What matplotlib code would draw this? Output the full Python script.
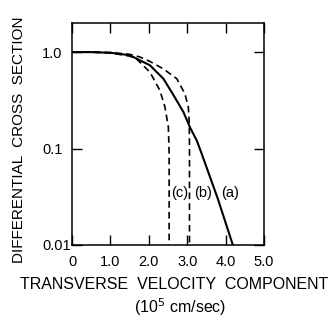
import matplotlib
matplotlib.use("Agg")
import matplotlib.pyplot as plt

plt.rcParams['font.family'] = ['Liberation Sans', 'DejaVu Sans']

# curve (a): solid
va = [0.0, 0.5, 1.0, 1.5, 2.03, 2.38, 2.64, 2.90, 3.07, 3.25, 3.38, 3.8, 4.19]
sa = [1.0, 1.0, 0.985, 0.93, 0.73, 0.53, 0.36, 0.24, 0.167, 0.121, 0.088, 0.03, 0.01]

# curve (b): dashed, outer
vb = [0.0, 0.5, 1.0, 1.5, 1.77, 2.03, 2.38, 2.73, 2.94, 3.03, 3.055, 3.06, 3.06]
sb = [1.0, 1.0, 0.99, 0.95, 0.89, 0.80, 0.67, 0.53, 0.37, 0.27, 0.18, 0.1, 0.01]

# curve (c): dashed, inner
vc = [0.0, 0.5, 1.0, 1.5, 1.68, 2.03, 2.29, 2.42, 2.51, 2.53, 2.53]
sc = [1.0, 1.0, 0.98, 0.91, 0.85, 0.62, 0.40, 0.27, 0.167, 0.088, 0.01]

xticks = [0, 1, 2, 3, 4, 5]
xticklabels = ["0", "1.0", "2.0", "3.0", "4.0", "5.0"]
yticks = [0.01, 0.1, 1.0]
yticklabels = ["0.01", "0.1", "1.0"]

fig = plt.figure(figsize=(3.32, 3.23), dpi=100)
ax = fig.add_axes([0.217, 0.2415, 0.578, 0.687])

ax.plot(va, sa, color="black", lw=1.5)
ax.plot(vb, sb, color="black", lw=1.2, dashes=(4, 2.5))
ax.plot(vc, sc, color="black", lw=1.2, dashes=(4, 2.5))

ax.set_yscale("log")
ax.set_xlim(0, 5)
ax.set_ylim(0.01, 2.0)
ax.set_xticks(xticks)
ax.set_xticklabels(xticklabels)
ax.set_yticks(yticks)
ax.set_yticklabels(yticklabels, ha="left")
ax.minorticks_off()
ax.tick_params(direction="in", top=True, right=True, length=7, width=1,
               labelsize=10.5)
ax.tick_params(axis="x", pad=7)
ax.tick_params(axis="y", pad=21.5)
for s in ax.spines.values():
    s.set_linewidth(1.1)

ax.text(2.8, 0.035, "(c)", ha="center", va="center", fontsize=10.5)
ax.text(3.41, 0.035, "(b)", ha="center", va="center", fontsize=10.5)
ax.text(4.11, 0.035, "(a)", ha="center", va="center", fontsize=10.5)

fig.text(0.057, 0.567, "DIFFERENTIAL  CROSS  SECTION", rotation=90,
         ha="center", va="center", fontsize=11)
fig.text(20 / 332, 0.118, "TRANSVERSE  VELOCITY  COMPONENT", ha="left",
         va="center", fontsize=11.5)
fig.text(0.542, 0.050, "(10$^5$ cm/sec)", ha="center", va="center", fontsize=11.5)

fig.savefig("out.png", dpi=100)
